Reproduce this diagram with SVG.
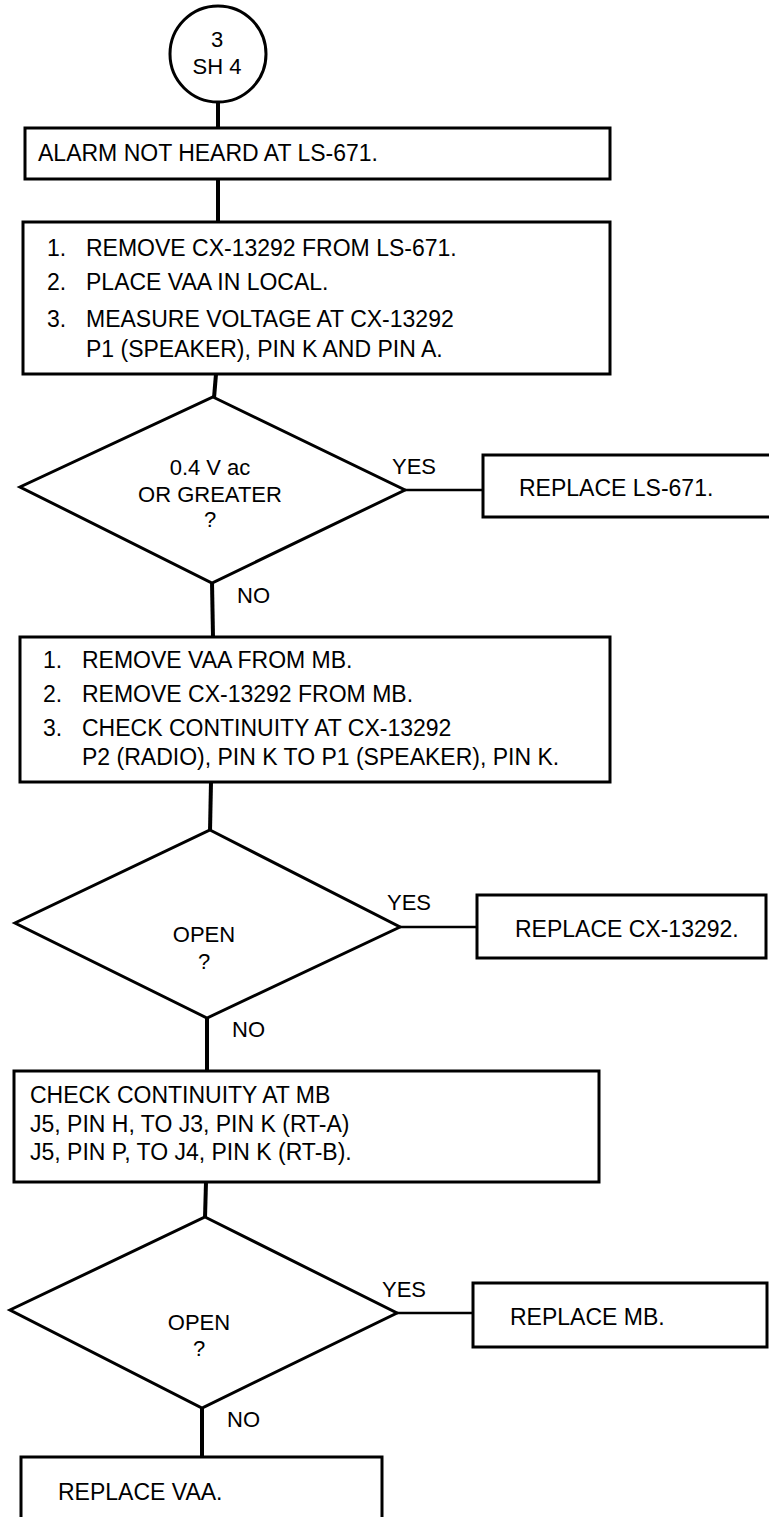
<svg xmlns="http://www.w3.org/2000/svg" width="769" height="1517" viewBox="0 0 769 1517">
<style>
  .box { fill: #ffffff; stroke: #000000; stroke-width: 3; }
  .dia { fill: #ffffff; stroke: #000000; stroke-width: 3; stroke-linejoin: miter; }
  .t { font-family: "Liberation Sans", Arial, sans-serif; font-size: 23px; fill: #000000; }
  .d { font-family: "Liberation Sans", Arial, sans-serif; font-size: 22px; fill: #000000; text-anchor: middle; }
  .lbl { font-family: "Liberation Sans", Arial, sans-serif; font-size: 22px; fill: #000000; }
  .v { stroke: #000000; stroke-width: 4; fill: none; }
  .h { stroke: #000000; stroke-width: 2.5; fill: none; }
</style>
<rect x="0" y="0" width="769" height="1517" fill="#ffffff"/>

<g id="connectors">
  <line class="v" x1="218" y1="101" x2="218" y2="128"/>
  <line class="v" x1="218" y1="179" x2="218" y2="222"/>
  <line class="v" x1="216" y1="374" x2="214" y2="398"/>
  <line class="h" x1="405" y1="490" x2="483" y2="490"/>
  <line class="v" x1="212" y1="582" x2="213" y2="637"/>
  <line class="v" x1="211" y1="782" x2="210" y2="831"/>
  <line class="h" x1="400" y1="927" x2="477" y2="927"/>
  <line class="v" x1="207" y1="1017" x2="207" y2="1071"/>
  <line class="v" x1="206" y1="1182" x2="205" y2="1218"/>
  <line class="h" x1="397" y1="1313" x2="473" y2="1313"/>
  <line class="v" x1="202" y1="1407" x2="202" y2="1457"/>
  <text class="lbl" x="392" y="474">YES</text>
  <text class="lbl" x="237" y="603">NO</text>
  <text class="lbl" x="387" y="910">YES</text>
  <text class="lbl" x="232" y="1037">NO</text>
  <text class="lbl" x="382" y="1297">YES</text>
  <text class="lbl" x="227" y="1427">NO</text>
</g>

<g id="start">
  <circle cx="218" cy="54" r="48" fill="#ffffff" stroke="#000000" stroke-width="3"/>
  <text class="d" x="217" y="47">3</text>
  <text class="d" x="217" y="74">SH 4</text>
</g>

<g id="alarm">
  <rect class="box" x="25" y="128" width="585" height="51"/>
  <text class="t" x="38" y="161">ALARM NOT HEARD AT LS-671.</text>
</g>

<g id="step1">
  <rect class="box" x="23" y="222" width="587" height="152"/>
  <text class="t" x="47" y="256">1.</text>
  <text class="t" x="86" y="256">REMOVE CX-13292 FROM LS-671.</text>
  <text class="t" x="47" y="290">2.</text>
  <text class="t" x="86" y="290">PLACE VAA IN LOCAL.</text>
  <text class="t" x="47" y="327">3.</text>
  <text class="t" x="86" y="327">MEASURE VOLTAGE AT CX-13292</text>
  <text class="t" x="86" y="357">P1 (SPEAKER), PIN K AND PIN A.</text>
</g>

<g id="decision1">
  <polygon class="dia" points="213,397 405,490 212,583 20,487"/>
  <text class="d" x="210" y="475">0.4 V ac</text>
  <text class="d" x="210" y="502">OR GREATER</text>
  <text class="d" x="210" y="527">?</text>
</g>

<g id="replace-ls671">
  <rect class="box" x="483" y="455" width="300" height="62"/>
  <text class="t" x="519" y="496">REPLACE LS-671.</text>
</g>

<g id="step2">
  <rect class="box" x="20" y="637" width="590" height="145"/>
  <text class="t" x="43" y="668">1.</text>
  <text class="t" x="82" y="668">REMOVE VAA FROM MB.</text>
  <text class="t" x="43" y="702">2.</text>
  <text class="t" x="82" y="702">REMOVE CX-13292 FROM MB.</text>
  <text class="t" x="43" y="736">3.</text>
  <text class="t" x="82" y="736">CHECK CONTINUITY AT CX-13292</text>
  <text class="t" x="82" y="765">P2 (RADIO), PIN K TO P1 (SPEAKER), PIN K.</text>
</g>

<g id="decision2">
  <polygon class="dia" points="210,830 400,927 207,1018 15,923"/>
  <text class="d" x="204" y="942">OPEN</text>
  <text class="d" x="204" y="969">?</text>
</g>

<g id="replace-cx13292">
  <rect class="box" x="477" y="895" width="289" height="63"/>
  <text class="t" x="515" y="937">REPLACE CX-13292.</text>
</g>

<g id="step3">
  <rect class="box" x="14" y="1071" width="585" height="111"/>
  <text class="t" x="30" y="1103">CHECK CONTINUITY AT MB</text>
  <text class="t" x="30" y="1132">J5, PIN H, TO J3, PIN K (RT-A)</text>
  <text class="t" x="30" y="1160">J5, PIN P, TO J4, PIN K (RT-B).</text>
</g>

<g id="decision3">
  <polygon class="dia" points="205,1217 397,1313 202,1408 10,1310"/>
  <text class="d" x="199" y="1330">OPEN</text>
  <text class="d" x="199" y="1356">?</text>
</g>

<g id="replace-mb">
  <rect class="box" x="473" y="1283" width="294" height="64"/>
  <text class="t" x="510" y="1325">REPLACE MB.</text>
</g>

<g id="replace-vaa">
  <rect class="box" x="21" y="1457" width="361" height="80"/>
  <text class="t" x="58" y="1500">REPLACE VAA.</text>
</g>
</svg>
